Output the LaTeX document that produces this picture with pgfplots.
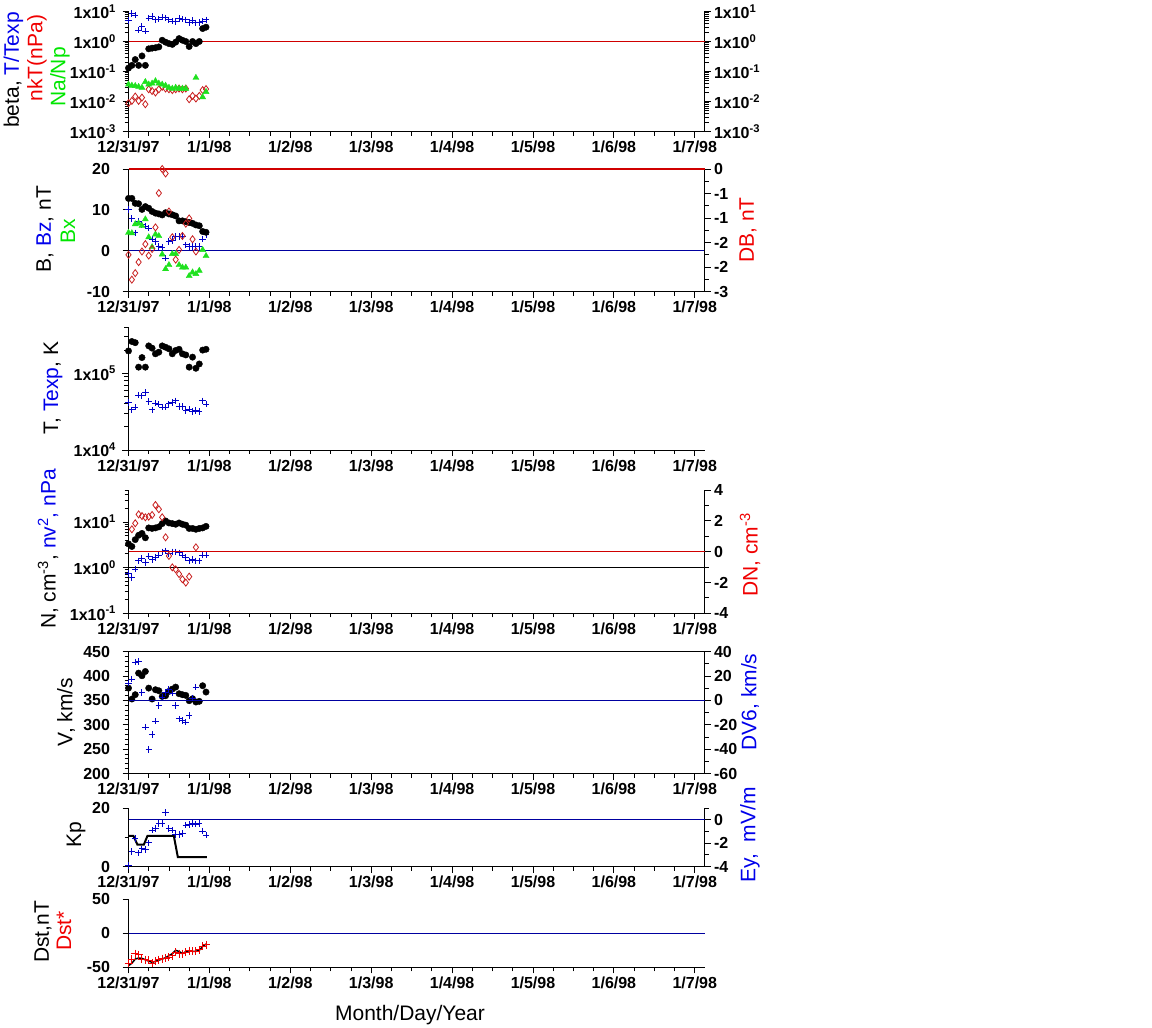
\documentclass[border=0pt]{standalone}
\usepackage{pgfplots}
\pgfplotsset{compat=1.18}
\usepackage{pgfplotstable}
\usepackage{fontspec}
\setmainfont{Liberation Sans}
\definecolor{mblue}{RGB}{0,0,200}
\definecolor{lblue}{RGB}{0,0,160}
\definecolor{mred}{RGB}{200,30,30}
\definecolor{hlinered}{HTML}{D00000}
\definecolor{mgreen}{RGB}{30,225,30}
\definecolor{tblue}{RGB}{0,0,235}
\definecolor{tred}{RGB}{240,0,0}
\definecolor{tgreen}{RGB}{0,230,0}
\newcommand{\lab}{\fontsize{21}{24}\selectfont}
\newcommand{\tkf}{\bfseries\fontsize{16}{19}\selectfont}

\pgfplotstableread{
h beta tt nkt na
0 0.13 5.0 0.0088 0.037
1 0.16 8.5 0.0105 0.034
2 0.25 7.5 0.0146 0.033
3 0.16 2.4 0.0105 0.031
4 0.33 3.2 0.0135 0.029
5 0.16 2.2 0.0081 0.045
6 0.57 6.0 0.0255 0.037
7 0.60 7.0 0.0224 0.040
8 0.62 5.3 0.0199 0.048
9 0.66 5.6 0.0255 0.040
10 1.10 6.5 0.031 0.037
11 0.95 6.2 0.027 0.034
12 0.85 5.3 0.0255 0.029
13 0.80 4.8 0.024 0.027
14 0.95 4.7 0.0255 0.029
15 1.25 5.8 0.027 0.027
16 1.10 5.5 0.0255 0.027
17 1.00 5.3 0.027 0.027
18 0.68 4.3 0.0119 nan
19 1.00 5.0 0.0154 nan
20 0.85 4.2 0.0126 0.062
21 1.00 4.3 0.0154 nan
22 2.70 4.8 0.024 0.014
23 3.00 5.3 0.026 0.021
}\tabA

\pgfplotstableread{
h B Bz Bx DB
0 12.8 10.1 4.4 -2.10
1 12.8 7.9 4.3 -2.71
2 11.6 4.4 6.5 -2.55
3 11.5 7.1 6.7 -2.28
4 10.1 6.3 6.1 -2.02
5 10.8 6.0 7.7 -1.84
6 10.4 5.5 3.3 -2.12
7 9.6 2.8 0.9 -1.96
8 9.2 2.2 4.0 -1.43
9 9.0 1.0 3.6 -0.59
10 8.75 0.8 -0.9 0.0
11 9.3 -1.8 -4.5 -0.11
12 9.0 2.2 -3.5 -1.04
13 8.8 2.5 -0.8 -1.67
14 8.5 3.5 -0.8 -2.22
15 7.3 3.5 -3.5 -1.98
16 7.3 3.5 -4.1 -1.64
17 7.1 1.4 -4.1 -1.34
18 6.9 1.0 -6.2 -1.21
19 6.7 1.0 -5.3 -1.72
20 6.3 1.0 -5.7 -2.02
21 6.1 1.0 -4.9 nan
22 4.7 2.8 0.2 nan
23 4.5 3.9 -1.3 nan
}\tabB

\pgfplotstableread{
h T Te
0 1.95e5 4.14e4
1 2.59e5 3.32e4
2 2.50e5 3.6e4
3 1.20e5 5.2e4
4 1.60e5 5.06e4
5 1.20e5 5.6e4
6 2.27e5 4.27e4
7 2.12e5 3.32e4
8 1.79e5 4.06e4
9 1.88e5 3.94e4
10 2.27e5 3.6e4
11 2.18e5 3.6e4
12 2.08e5 3.98e4
13 1.79e5 4.14e4
14 1.98e5 4.36e4
15 2.05e5 3.67e4
16 1.79e5 3.67e4
17 1.73e5 3.26e4
18 1.20e5 3.39e4
19 1.62e5 3.16e4
20 1.16e5 3.26e4
21 1.32e5 3.16e4
22 2.00e5 4.36e4
23 2.05e5 3.94e4
}\tabC

\pgfplotstableread{
h N nv DN
0 3.3 0.75 nan
1 2.9 0.61 1.45
2 4.1 0.93 1.84
3 5.1 1.41 2.42
4 5.6 1.58 2.31
5 4.5 1.30 2.23
6 7.4 1.78 2.27
7 7.2 1.51 2.38
8 7.4 1.67 3.03
9 7.8 1.87 2.75
10 9.2 2.22 2.23
11 10.5 2.33 0.93
12 9.5 2.04 -0.28
13 9.2 2.22 -1.02
14 8.9 2.22 -1.15
15 9.5 2.11 -1.45
16 8.9 1.87 -1.79
17 8.5 1.67 -2.01
18 7.2 1.41 -1.62
19 7.2 1.51 nan
20 6.9 1.41 0.28
21 7.2 1.41 nan
22 7.4 1.87 nan
23 8.0 1.87 nan
}\tabD

\pgfplotstableread{
h V DV
0 375 14.1
1 352.6 17.4
2 361.5 31.3
3 405.7 31.8
4 400.3 6.5
5 409.1 -21.9
6 375 -40.4
7 352.6 -28.1
8 371.7 -17.2
9 369.6 -4.4
10 358 2.7
11 359.4 6.5
12 368.3 8.7
13 373 5.9
14 377.1 -4.4
15 363.5 -15.3
16 361.5 -16.4
17 360.1 -18.0
18 349.2 -12.6
19 353.3 1.85
20 346.5 10.8
21 347.9 nan
22 379.9 nan
23 366.9 nan
}\tabE

\pgfplotstableread{
h Ey
0 -3.91
1 -2.71
2 -1.61
3 -2.82
4 -2.48
5 -2.56
6 -1.99
7 -0.90
8 -0.75
9 -0.32
10 -0.32
11 0.6
12 -0.75
13 -0.90
14 -1.27
15 -1.27
16 -1.18
17 -0.47
18 -0.41
19 -0.32
20 -0.38
21 -0.32
22 -0.98
23 -1.33
}\tabF

\pgfplotstableread{
h dst dsts
0 -47.6 -43.7
1 -44 -37.9
2 -38 -30.1
3 -36.4 -31.6
4 -37 -37.9
5 -39 -38.8
6 -41 -39.8
7 -42.7 -43.7
8 -41.3 -41.3
9 -39.5 -38.8
10 -37.9 -37.4
11 -36 -36.4
12 -33 -35.4
13 -30 -33
14 -25.2 -28.2
15 -26.7 -30.1
16 -30.1 -30.1
17 -27 -28.2
18 -25.7 -25.7
19 -26.5 -26.7
20 -26.5 -26.7
21 -25.2 -24.3
22 -19.4 -19.4
23 -16 -17
}\tabG

\pgfplotsset{
 base/.style={scale only axis, width=576pt, xmin=0, xmax=7.12,
   tick align=outside, major tick length=6pt, minor tick length=4pt,
   every tick/.style={black, line width=0.8pt},
   axis line style={black, line width=1pt},
   tick label style={font=\tkf},
   /pgf/number format/assume math mode=true, clip=false,
   anchor=south west},
 leftax/.style={base, axis x line*=bottom, axis y line*=left,
   xtick={0,...,7},
   xticklabels={12/31/97,1/1/98,1/2/98,1/3/98,1/4/98,1/5/98,1/6/98,1/7/98},
   minor x tick num=3},
 linl/.style={yticklabel style={xshift=-9pt}},
 logl/.style={yticklabel style={xshift=-3pt}},
 rightax/.style={base, axis x line*=bottom, axis y line*=right, xtick=\empty, minor xtick={}},
 bdot/.style={only marks, mark=*, mark size=3.2pt, black},
 bplus/.style={only marks, mark=+, mark size=3.2pt, mblue, mark options={line width=1pt}},
 rdia/.style={only marks, mark=diamond, mark size=3.5pt, mred, mark options={line width=0.8pt}},
 gtri/.style={only marks, mark=triangle*, mark size=3.5pt, mgreen},
 hr/.style={color=hlinered, line width=1.2pt, mark=none},
}

\begin{document}
\begin{tikzpicture}
\useasboundingbox (0pt,0pt) rectangle (1152pt,-1028pt);

% ---------- Panel 1
\begin{axis}[rightax, at={(128.5pt,-131.5pt)}, height=120pt, ymode=log, ymin=1e-3, ymax=10,
  ytick={1e-3,1e-2,1e-1,1,10},
  yticklabels={1x10\textsuperscript{-3},1x10\textsuperscript{-2},1x10\textsuperscript{-1},1x10\textsuperscript{0},1x10\textsuperscript{1}},
  minor ytick={2e-3,3e-3,4e-3,5e-3,6e-3,7e-3,8e-3,9e-3,2e-2,3e-2,4e-2,5e-2,6e-2,7e-2,8e-2,9e-2,0.2,0.3,0.4,0.5,0.6,0.7,0.8,0.9,2,3,4,5,6,7,8,9}]
\addplot[draw=none] coordinates {(0,1)};
\end{axis}
\begin{axis}[leftax, logl, at={(128.5pt,-131.5pt)}, height=120pt, ymode=log, ymin=1e-3, ymax=10,
  ytick={1e-3,1e-2,1e-1,1,10},
  yticklabels={1x10\textsuperscript{-3},1x10\textsuperscript{-2},1x10\textsuperscript{-1},1x10\textsuperscript{0},1x10\textsuperscript{1}},
  minor ytick={2e-3,3e-3,4e-3,5e-3,6e-3,7e-3,8e-3,9e-3,2e-2,3e-2,4e-2,5e-2,6e-2,7e-2,8e-2,9e-2,0.2,0.3,0.4,0.5,0.6,0.7,0.8,0.9,2,3,4,5,6,7,8,9}]
\addplot[hr] coordinates {(0,1) (7.12,1)};
\addplot[bplus] table[x expr=\thisrow{h}/24, y=tt] {\tabA};
\addplot[bdot] table[x expr=\thisrow{h}/24, y=beta] {\tabA};
\addplot[rdia] table[x expr=\thisrow{h}/24, y=nkt] {\tabA};
\addplot[gtri] table[x expr=\thisrow{h}/24, y=na] {\tabA};
\end{axis}
\node[rotate=90, font=\lab] at (13.5pt,-70pt) {beta, \textcolor{tblue}{T/Texp}};
\node[rotate=90, font=\lab, text=tred] at (37pt,-58pt) {nkT(nPa)};
\node[rotate=90, font=\lab, text=tgreen] at (60pt,-77pt) {Na/Np};

% ---------- Panel 2
\begin{axis}[leftax, linl, at={(128.5pt,-291.5pt)}, height=122.5pt, ymin=-10, ymax=20,
  ytick={-10,0,10,20}, yticklabels={-10,0,10,20}]
\addplot[color=lblue, line width=1pt, mark=none] coordinates {(0,0) (7.12,0)};
\addplot[bplus] table[x expr=\thisrow{h}/24, y=Bz] {\tabB};
\addplot[bdot] table[x expr=\thisrow{h}/24, y=B] {\tabB};
\addplot[gtri] table[x expr=\thisrow{h}/24, y=Bx] {\tabB};
\end{axis}
\begin{axis}[rightax, at={(128.5pt,-291.5pt)}, height=122.5pt, ymin=-3, ymax=0,
  ytick={-3,-2.4,-1.8,-1.2,-0.6,0}, yticklabels={-3,-2,-2,-1,-1,0},
  minor ytick={-2.7,-2.1,-1.5,-0.9,-0.3}]
\addplot[hr] coordinates {(0,0) (7.12,0)};
\addplot[rdia] table[x expr=\thisrow{h}/24, y=DB] {\tabB};
\end{axis}
\node[rotate=90, font=\lab] at (45pt,-229pt) {B, \textcolor{tblue}{Bz}, nT};
\node[rotate=90, font=\lab, text=tgreen] at (68pt,-231pt) {Bx};
\node[rotate=90, font=\lab, text=tred] at (748pt,-230pt) {DB, nT};

% ---------- Panel 3
\begin{axis}[leftax, logl, at={(128.5pt,-450pt)}, height=123pt, ymode=log, ymin=1e4, ymax=4e5,
  ytick={1e4,1e5}, yticklabels={1x10\textsuperscript{4},1x10\textsuperscript{5}},
  minor ytick={2e4,3e4,4e4,5e4,6e4,7e4,8e4,9e4,2e5,3e5,4e5}]
\addplot[bdot] table[x expr=\thisrow{h}/24, y=T] {\tabC};
\addplot[bplus] table[x expr=\thisrow{h}/24, y=Te] {\tabC};
\end{axis}
\node[rotate=90, font=\lab] at (53pt,-388pt) {T, \textcolor{tblue}{Texp}, K};

% ---------- Panel 4
\begin{axis}[leftax, logl, at={(128.5pt,-613.3pt)}, height=123.3pt, ymode=log, ymin=0.1, ymax=50,
  ytick={0.1,1,10}, yticklabels={1x10\textsuperscript{-1},1x10\textsuperscript{0},1x10\textsuperscript{1}},
  minor ytick={0.2,0.3,0.4,0.5,0.6,0.7,0.8,0.9,2,3,4,5,6,7,8,9,20,30,40,50}]
\addplot[color=black, line width=1pt, mark=none] coordinates {(0,1) (7.12,1)};
\addplot[bdot] table[x expr=\thisrow{h}/24, y=N] {\tabD};
\addplot[bplus] table[x expr=\thisrow{h}/24, y=nv] {\tabD};
\end{axis}
\begin{axis}[rightax, at={(128.5pt,-613.3pt)}, height=123.3pt, ymin=-4, ymax=4,
  ytick={-4,-2,0,2,4}, yticklabels={-4,-2,0,2,4}, minor ytick={-3,-1,1,3}]
\addplot[hr] coordinates {(0,0) (7.12,0)};
\addplot[rdia] table[x expr=\thisrow{h}/24, y=DN] {\tabD};
\end{axis}
\node[rotate=90, font=\lab] at (48pt,-549pt) {N, cm\textsuperscript{-3}, \textcolor{tblue}{nv\textsuperscript{2}, nPa}};
\node[rotate=90, font=\lab, text=tred] at (750pt,-555pt) {DN, cm\textsuperscript{-3}};

% ---------- Panel 5
\begin{axis}[leftax, linl, at={(128.5pt,-773.5pt)}, height=122pt, ymin=200, ymax=450,
  ytick={200,250,300,350,400,450}, yticklabels={200,250,300,350,400,450}, minor y tick num=4]
\draw[black, line width=1pt] (rel axis cs:0,1) -- (rel axis cs:1,1);
\addplot[bdot] table[x expr=\thisrow{h}/24, y=V] {\tabE};
\end{axis}
\begin{axis}[rightax, at={(128.5pt,-773.5pt)}, height=122pt, ymin=-60, ymax=40,
  ytick={-60,-40,-20,0,20,40}, yticklabels={-60,-40,-20,0,20,40}, minor y tick num=1]
\addplot[color=lblue, line width=1pt, mark=none] coordinates {(0,0) (7.12,0)};
\addplot[bplus] table[x expr=\thisrow{h}/24, y=DV] {\tabE};
\end{axis}
\node[rotate=90, font=\lab] at (66pt,-712pt) {V, km/s};
\node[rotate=90, font=\lab, text=tblue] at (750pt,-702pt) {DV6, km/s};

% ---------- Panel 6
\begin{axis}[leftax, linl, at={(128.5pt,-866.5pt)}, height=58.5pt, ymin=0, ymax=20,
  ytick={0,20}, yticklabels={0,20}, minor ytick={10}]
\addplot[color=black, line width=2pt, mark=none] coordinates {(0,10.5) (0.06,10.5) (0.11,7.5) (0.19,7.5) (0.235,10.5) (0.56,10.5) (0.61,3.2) (0.97,3.2)};
\end{axis}
\begin{axis}[rightax, at={(128.5pt,-866.5pt)}, height=58.5pt, ymin=-4, ymax=1,
  ytick={-4,-2,0}, yticklabels={-4,-2,0}, minor ytick={-3,-1,1}]
\addplot[color=lblue, line width=1pt, mark=none] coordinates {(0,0) (7.12,0)};
\addplot[bplus] table[x expr=\thisrow{h}/24, y=Ey] {\tabF};
\end{axis}
\node[rotate=90, font=\lab] at (76pt,-835pt) {Kp};
\node[rotate=90, font=\lab, text=tblue] at (750pt,-835pt) {Ey,\ \ mV/m};

% ---------- Panel 7
\begin{axis}[leftax, linl, at={(128.5pt,-967.3pt)}, height=68.3pt, ymin=-50, ymax=50,
  ytick={-50,0,50}, yticklabels={-50,0,50}]
\addplot[color=lblue, line width=1pt, mark=none] coordinates {(0,0) (7.12,0)};
\addplot[color=black, line width=1.5pt, mark=none] table[x expr=\thisrow{h}/24, y=dst] {\tabG};
\addplot[only marks, mark=+, mark size=4pt, tred, mark options={line width=1pt}] table[x expr=\thisrow{h}/24, y=dsts] {\tabG};
\end{axis}
\node[rotate=90, font=\lab] at (43pt,-932pt) {Dst,nT};
\node[rotate=90, font=\lab, text=tred] at (64pt,-931pt) {Dst*};

\node[font=\lab, anchor=base] at (410pt,-1020pt) {Month/Day/Year};
\end{tikzpicture}
\end{document}
